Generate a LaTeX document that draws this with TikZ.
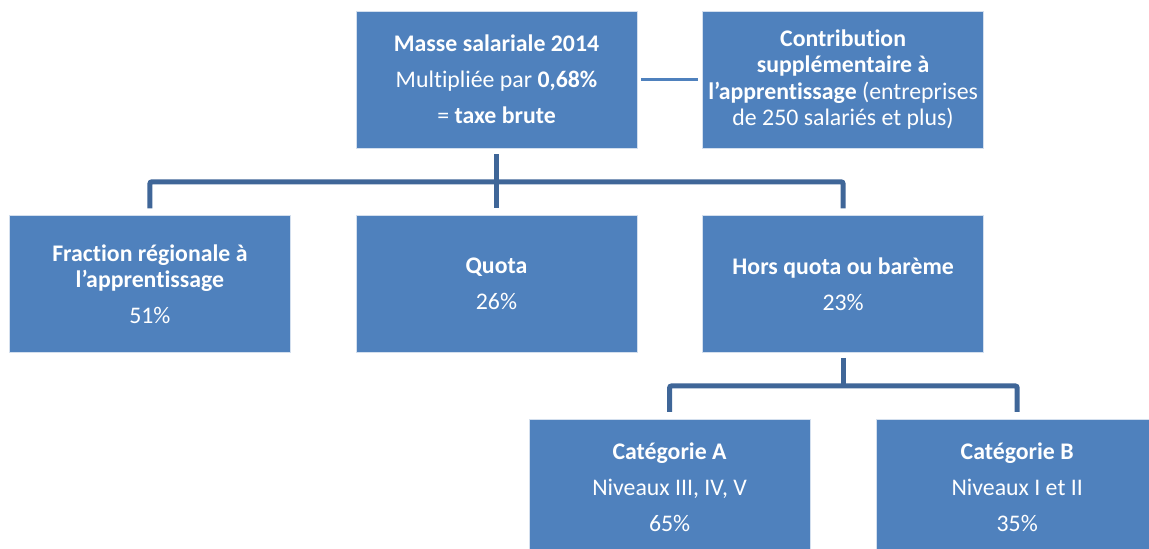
\documentclass[tikz,border=0pt]{standalone}
\usepackage{fontspec}
\setmainfont{Carlito}[Ligatures=NoCommon]
\usepackage{tikz}
\usetikzlibrary{calc,positioning}
\definecolor{boxblue}{HTML}{4F81BD}
\definecolor{linkblue}{HTML}{3F6698}

\begin{document}
\begin{tikzpicture}[x=1pt,y=1pt]
\pgfmathsetmacro{\gx}{65}
\tikzstyle{box}=[draw=white!75!boxblue, line width=0.6pt, fill=boxblue, text=white, minimum width=281pt, minimum height=137pt, inner sep=1pt, align=center, font=\fontsize{23.8}{26.5}\selectfont]
\tikzstyle{tree}=[draw=linkblue, line width=5pt, rounded corners=2pt]
\tikzstyle{link}=[draw=boxblue, line width=3pt]
\clip (-496.5,-469.5) rectangle (652.5,79.5);

\node[box] (M) at (0,0) {\textbf{Masse salariale 2014}\\[9.5pt] Multipliée par \textbf{0,68\%}\\[9.5pt] = \textbf{taxe brute}};
\node[box, right = \gx pt of M] (C) {\textbf{Contribution}\\ \textbf{supplémentaire à}\\ \textbf{l’apprentissage} (entreprises\\ de 250 salariés et plus)};
\node[box, below = 67pt of M] (Q) {\textbf{Quota}\\[9.5pt] 26\%};
\node[box, left = \gx pt of Q] (F) {\textbf{Fraction régionale à}\\ \textbf{l’apprentissage}\\[9.5pt] 51\%};
\node[box, right = \gx pt of Q] (H) {\textbf{Hors quota ou barème}\\[9.5pt] 23\%};
\node[box, below = 66pt of H, xshift=-173.5pt] (A) {\textbf{Catégorie A}\\[9.5pt] Niveaux III, IV, V\\[9.5pt] 65\%};
\node[box, right = 66pt of A] (B) {\textbf{Catégorie B}\\[9.5pt] Niveaux I et II\\[9.5pt] 35\%};

% connectors
\coordinate (mq) at ($(M.south)!0.5!(Q.north)$);
\coordinate (ha) at ($(H.south)!0.5!(H.south |- A.north)$);
\draw[link] ([xshift=4pt]M.east) -- ([xshift=-4pt]C.west);
\draw[tree] ([yshift=-6pt]M.south) -- ([yshift=7pt]Q.north);
\draw[tree] ([yshift=7pt]F.north) |- (mq) -| ([yshift=7pt]H.north);
\draw[tree] ([yshift=-5pt]H.south) -- (ha);
\draw[tree] ([yshift=7pt]A.north) |- (ha) -| ([yshift=7pt]B.north);
\end{tikzpicture}
\end{document}
